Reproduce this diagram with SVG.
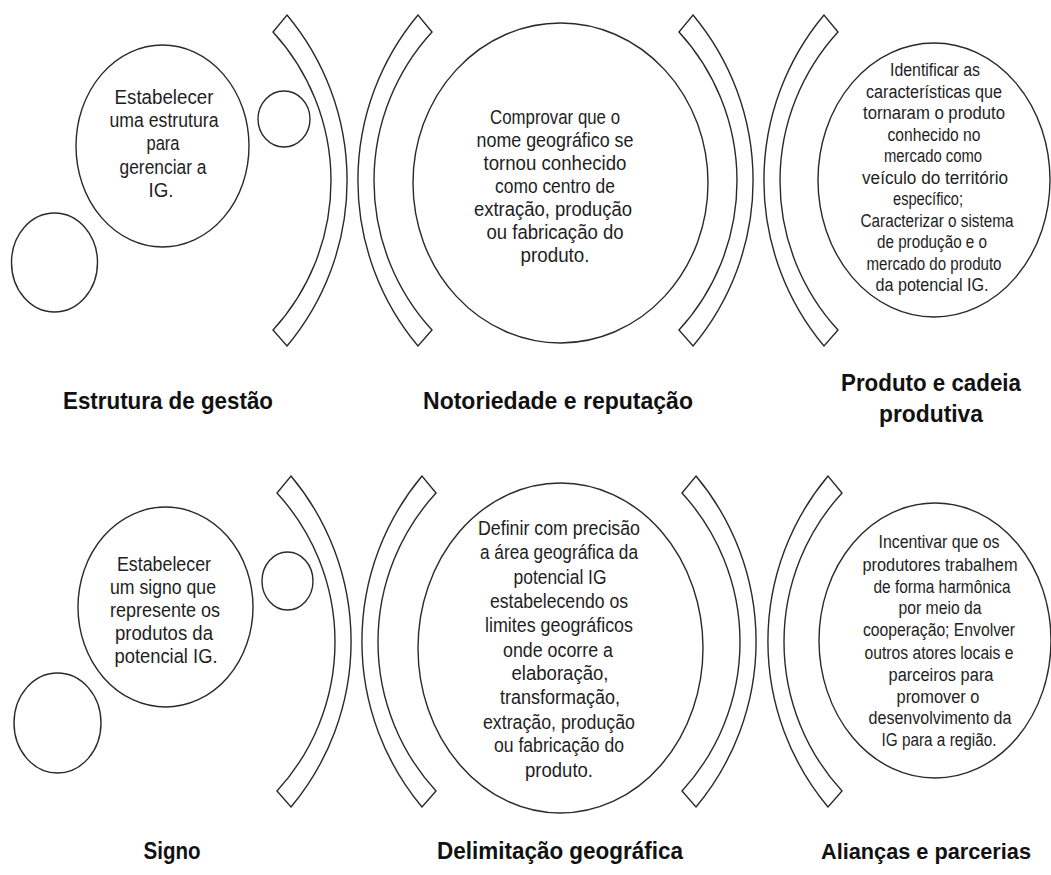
<svg xmlns="http://www.w3.org/2000/svg" xmlns:xlink="http://www.w3.org/1999/xlink" width="1051" height="875" viewBox="0 0 1051 875">
<style>
.sh{fill:#fff;stroke:#2a2a2a;stroke-width:1.4}
.t{font-family:"Liberation Sans",Arial,sans-serif;fill:#1e1e1e;text-anchor:middle}
.b20{font-size:20.5px}
.b18{font-size:18px}
.lb{font-family:"Liberation Sans",Arial,sans-serif;font-weight:bold;font-size:24px;fill:#111;text-anchor:middle}
</style>
<defs>
<path id="arcR" d="M14,0 A258 258 0 0 1 14,331 L0,315 A220.4 220.4 0 0 0 0,17 Z"/>
<path id="arcL" d="M-14,0 A258 258 0 0 0 -14,331 L0,315 A220.4 220.4 0 0 1 0,17 Z"/>
</defs>
<rect width="1051" height="875" fill="#fff"/>
<g id="arcs" class="sh">
<use xlink:href="#arcR" href="#arcR" transform="translate(273,15)"/>
<use xlink:href="#arcL" href="#arcL" transform="translate(432,15)"/>
<use xlink:href="#arcR" href="#arcR" transform="translate(679,15)"/>
<use xlink:href="#arcL" href="#arcL" transform="translate(838,15)"/>
<use xlink:href="#arcR" href="#arcR" transform="translate(277,476)"/>
<use xlink:href="#arcL" href="#arcL" transform="translate(436,476)"/>
<use xlink:href="#arcR" href="#arcR" transform="translate(682,476)"/>
<use xlink:href="#arcL" href="#arcL" transform="translate(842,476)"/>
</g>
<g id="deco-top" class="sh">
<ellipse cx="284" cy="119" rx="26" ry="28"/>
<ellipse cx="54.5" cy="262.5" rx="43" ry="49.5"/>
</g>
<g id="deco-bottom" class="sh">
<ellipse cx="287.5" cy="581" rx="25.5" ry="29"/>
<ellipse cx="57.5" cy="723" rx="43.5" ry="50"/>
</g>
<g id="estrutura">
<ellipse class="sh" cx="162.5" cy="146" rx="86.5" ry="101"/>
<text class="t b20" x="164" y="104" textLength="99" lengthAdjust="spacingAndGlyphs">Estabelecer</text>
<text class="t b20" x="164" y="127" textLength="109" lengthAdjust="spacingAndGlyphs">uma estrutura</text>
<text class="t b20" x="163" y="150" textLength="33" lengthAdjust="spacingAndGlyphs">para</text>
<text class="t b20" x="163" y="174" textLength="87" lengthAdjust="spacingAndGlyphs">gerenciar a</text>
<text class="t b20" x="161" y="197" textLength="25" lengthAdjust="spacingAndGlyphs">IG.</text>
<text class="lb" x="168" y="409" textLength="210" lengthAdjust="spacingAndGlyphs">Estrutura de gestão</text>
</g>
<g id="notoriedade">
<ellipse class="sh" cx="560.5" cy="183" rx="147.5" ry="160"/>
<text class="t b20" x="555" y="124" textLength="130" lengthAdjust="spacingAndGlyphs">Comprovar que o</text>
<text class="t b20" x="555" y="147" textLength="157" lengthAdjust="spacingAndGlyphs">nome geográfico se</text>
<text class="t b20" x="555" y="170" textLength="143" lengthAdjust="spacingAndGlyphs">tornou conhecido</text>
<text class="t b20" x="555" y="193" textLength="120" lengthAdjust="spacingAndGlyphs">como centro de</text>
<text class="t b20" x="553" y="216" textLength="158" lengthAdjust="spacingAndGlyphs">extração, produção</text>
<text class="t b20" x="555" y="239" textLength="137" lengthAdjust="spacingAndGlyphs">ou fabricação do</text>
<text class="t b20" x="555" y="262" textLength="69" lengthAdjust="spacingAndGlyphs">produto.</text>
<text class="lb" x="558" y="409" textLength="270" lengthAdjust="spacingAndGlyphs">Notoriedade e reputação</text>
</g>
<g id="produto">
<ellipse class="sh" cx="934" cy="180" rx="116" ry="137"/>
<text class="t b18" x="935" y="76" textLength="90" lengthAdjust="spacingAndGlyphs">Identificar as</text>
<text class="t b18" x="934" y="97.5" textLength="136" lengthAdjust="spacingAndGlyphs">características que</text>
<text class="t b18" x="934" y="119" textLength="142" lengthAdjust="spacingAndGlyphs">tornaram o produto</text>
<text class="t b18" x="934" y="140.5" textLength="93" lengthAdjust="spacingAndGlyphs">conhecido no</text>
<text class="t b18" x="933" y="162" textLength="98" lengthAdjust="spacingAndGlyphs">mercado como</text>
<text class="t b18" x="935" y="183.5" textLength="146" lengthAdjust="spacingAndGlyphs">veículo do território</text>
<text class="t b18" x="928" y="205" textLength="70" lengthAdjust="spacingAndGlyphs">específico;</text>
<text class="t b18" x="937" y="226.5" textLength="153" lengthAdjust="spacingAndGlyphs">Caracterizar o sistema</text>
<text class="t b18" x="932" y="248" textLength="110" lengthAdjust="spacingAndGlyphs">de produção e o</text>
<text class="t b18" x="934" y="269.5" textLength="135" lengthAdjust="spacingAndGlyphs">mercado do produto</text>
<text class="t b18" x="932" y="291" textLength="113" lengthAdjust="spacingAndGlyphs">da potencial IG.</text>
<text class="lb" x="931" y="391" textLength="180" lengthAdjust="spacingAndGlyphs">Produto e cadeia</text>
<text class="lb" x="931" y="422" textLength="104" lengthAdjust="spacingAndGlyphs">produtiva</text>
</g>
<g id="signo">
<ellipse class="sh" cx="165.5" cy="607" rx="87.5" ry="100"/>
<text class="t b20" x="164" y="571" textLength="94" lengthAdjust="spacingAndGlyphs">Estabelecer</text>
<text class="t b20" x="163" y="594" textLength="106" lengthAdjust="spacingAndGlyphs">um signo que</text>
<text class="t b20" x="165" y="617" textLength="110" lengthAdjust="spacingAndGlyphs">represente os</text>
<text class="t b20" x="164" y="640" textLength="98" lengthAdjust="spacingAndGlyphs">produtos da</text>
<text class="t b20" x="166" y="663" textLength="103" lengthAdjust="spacingAndGlyphs">potencial IG.</text>
<text class="lb" x="172" y="859" textLength="57" lengthAdjust="spacingAndGlyphs">Signo</text>
</g>
<g id="delimitacao">
<ellipse class="sh" cx="560.5" cy="648" rx="142.5" ry="165"/>
<text class="t b20" x="559" y="535" textLength="162" lengthAdjust="spacingAndGlyphs">Definir com precisão</text>
<text class="t b20" x="559" y="559" textLength="158" lengthAdjust="spacingAndGlyphs">a área geográfica da</text>
<text class="t b20" x="560" y="584" textLength="93" lengthAdjust="spacingAndGlyphs">potencial IG</text>
<text class="t b20" x="559" y="608" textLength="138" lengthAdjust="spacingAndGlyphs">estabelecendo os</text>
<text class="t b20" x="559" y="632" textLength="148" lengthAdjust="spacingAndGlyphs">limites geográficos</text>
<text class="t b20" x="558" y="657" textLength="110" lengthAdjust="spacingAndGlyphs">onde ocorre a</text>
<text class="t b20" x="560" y="680" textLength="97" lengthAdjust="spacingAndGlyphs">elaboração,</text>
<text class="t b20" x="560" y="704" textLength="120" lengthAdjust="spacingAndGlyphs">transformação,</text>
<text class="t b20" x="559" y="729" textLength="152" lengthAdjust="spacingAndGlyphs">extração, produção</text>
<text class="t b20" x="559" y="752" textLength="130" lengthAdjust="spacingAndGlyphs">ou fabricação do</text>
<text class="t b20" x="559" y="777" textLength="68" lengthAdjust="spacingAndGlyphs">produto.</text>
<text class="lb" x="560" y="859" textLength="246" lengthAdjust="spacingAndGlyphs">Delimitação geográfica</text>
</g>
<g id="aliancas">
<ellipse class="sh" cx="935" cy="640.5" rx="116" ry="137.5"/>
<text class="t b18" x="939" y="548" textLength="121" lengthAdjust="spacingAndGlyphs">Incentivar que os</text>
<text class="t b18" x="940" y="571" textLength="155" lengthAdjust="spacingAndGlyphs">produtores trabalhem</text>
<text class="t b18" x="942" y="593" textLength="137" lengthAdjust="spacingAndGlyphs">de forma harmônica</text>
<text class="t b18" x="940" y="614" textLength="83" lengthAdjust="spacingAndGlyphs">por meio da</text>
<text class="t b18" x="939" y="636" textLength="152" lengthAdjust="spacingAndGlyphs">cooperação; Envolver</text>
<text class="t b18" x="939" y="659" textLength="149" lengthAdjust="spacingAndGlyphs">outros atores locais e</text>
<text class="t b18" x="941" y="681" textLength="105" lengthAdjust="spacingAndGlyphs">parceiros para</text>
<text class="t b18" x="938" y="703" textLength="83" lengthAdjust="spacingAndGlyphs">promover o</text>
<text class="t b18" x="940" y="724" textLength="143" lengthAdjust="spacingAndGlyphs">desenvolvimento da</text>
<text class="t b18" x="939" y="746" textLength="115" lengthAdjust="spacingAndGlyphs">IG para a região.</text>
<text class="lb" x="926" y="859" style="font-size:22.5px" textLength="210" lengthAdjust="spacingAndGlyphs">Alianças e parcerias</text>
</g>
</svg>
